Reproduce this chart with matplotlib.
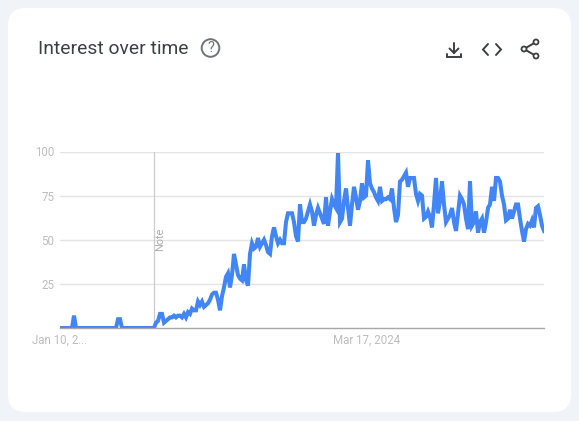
"""Recreate the interest-over-time card."""

import matplotlib

matplotlib.use("Agg")
import matplotlib.pyplot as plt
from matplotlib.patches import Circle, FancyBboxPatch

WIDTH, HEIGHT = 579, 421

flat_start = [0, 0, 0, 0, 0, 0, 0, 7, 0, 0, 0, 0, 0, 0, 0, 0, 0, 0, 0, 0, 0, 0, 0, 0,
              0, 0, 0, 0, 0, 5, 5, 0, 0, 0, 0, 0, 0, 0, 0, 0, 0, 0, 0, 0, 0, 0, 0]
climb = [0, 3, 4, 8, 8, 3, 4, 5, 6, 6, 7, 6, 7, 7, 6, 8, 6, 9, 8, 11, 10, 10, 15, 13, 15, 12, 13, 14,
         16, 19, 20, 20, 16, 10, 18, 23, 29, 31, 23, 30, 42, 36, 30, 28, 27, 36, 27, 24, 42, 48,
         45, 46, 51, 46, 48, 50, 47, 43, 42, 52, 57, 52, 48, 50, 48, 48, 60, 65, 65, 65, 60, 52, 49, 70,
         60, 60, 62, 66, 70, 66, 58, 64, 68, 65, 62, 59, 74, 58, 66, 73, 70, 68, 99, 60, 62, 72, 79, 68,
         58, 70, 80, 74, 67, 72, 82, 74, 75, 95, 82, 79, 77, 74, 72, 80]
plateau = [72, 73, 73, 74, 73, 79, 68, 60, 64, 83, 84, 86, 88, 80, 85, 85, 85, 76, 72, 76, 75, 62, 63, 66,
           63, 57, 70, 85, 65, 72, 83, 70, 60, 62, 64, 68, 60, 55, 65, 75, 73, 70, 62, 56, 83, 58, 60, 66,
           54, 60, 62, 54, 60, 68, 70, 80, 72, 85, 85, 83, 75, 70, 61, 62, 67, 62, 66, 70, 70, 62, 55, 49,
           56, 59, 58, 61, 57, 68, 69, 64, 58, 55]
values = flat_start + climb + plateau

x_labels = ["Jan 10, 2...", "Mar 17, 2024"]
x_label_positions = [0, 153.5]
y_ticks = [25, 50, 75, 100]
note_position = 46.75


def main() -> None:
    plt.rcParams["font.family"] = ["Roboto", "DejaVu Sans"]
    fig = plt.figure(figsize=(WIDTH / 100, HEIGHT / 100), dpi=100, facecolor="#f0f4f9")

    # card and header drawn in pixel coordinates
    bg = fig.add_axes([0, 0, 1, 1])
    bg.set_xlim(0, WIDTH)
    bg.set_ylim(HEIGHT, 0)
    bg.axis("off")
    bg.add_patch(FancyBboxPatch((8, 8), 563, 404, boxstyle="round,pad=0,rounding_size=18",
                                fc="white", ec="none"))
    bg.text(38, 49.5, "Interest over time", fontsize=13.9, color="#3c4043", va="center")
    bg.add_patch(Circle((210.5, 48), 8.8, fc="none", ec="#707478", lw=1.4))
    bg.text(210.5, 48.2, "?", fontsize=10.5, color="#707478", ha="center", va="center")

    icon = dict(color="#3c4043", lw=1.4, solid_capstyle="round", solid_joinstyle="miter")
    # download
    bg.plot([454, 454], [43, 53], **icon)
    bg.plot([449.5, 454, 458.5], [48.5, 53, 48.5], **icon)
    bg.plot([447, 447, 461, 461], [54, 57, 57, 54], **icon)
    # embed
    bg.plot([488, 483, 488], [44, 49.5, 55], **icon)
    bg.plot([496, 501, 496], [44, 49.5, 55], **icon)
    # share
    bg.plot([536, 524, 536], [42, 49, 56], **icon)
    for cx, cy in [(536, 42), (524, 49), (536, 56)]:
        bg.add_patch(Circle((cx, cy), 2.5, fc="white", ec="#3c4043", lw=1.3, zorder=3))

    # chart
    ax = fig.add_axes([60 / WIDTH, (HEIGHT - 328) / HEIGHT, 484 / WIDTH, 176.5 / HEIGHT])
    ax.patch.set_visible(False)
    ax.set_xlim(0, 242)
    ax.set_ylim(0, 100)
    for spine in ["top", "left", "right"]:
        ax.spines[spine].set_visible(False)
    ax.spines["bottom"].set_color("#a8a8a8")
    ax.spines["bottom"].set_linewidth(1)
    ax.set_yticks(y_ticks)
    ax.set_xticks(x_label_positions, x_labels)
    ax.tick_params(length=0, labelsize=8.3, labelcolor="#bdbdbd", pad=4)
    ax.grid(axis="y", color="#e4e4e4", lw=1)
    ax.set_axisbelow(True)
    ax.axvline(note_position, color="#cccccc", lw=0.9)
    ax.text(note_position + 3.5, 50, "Note", rotation=90, fontsize=7.8, color="#adadad",
            ha="center", va="center")
    ax.plot(range(len(values)), values, color="#4285f4", lw=2.9, solid_joinstyle="miter")

    fig.savefig("out.png", dpi=100, facecolor=fig.get_facecolor())
    plt.close(fig)


if __name__ == "__main__":
    main()
